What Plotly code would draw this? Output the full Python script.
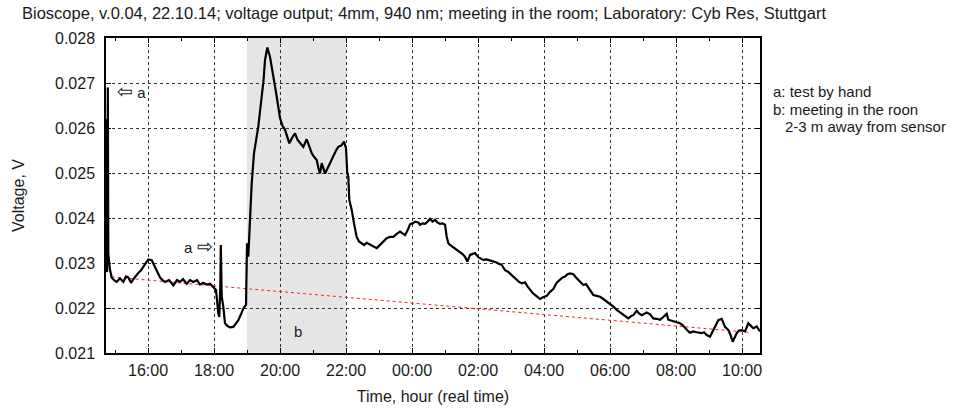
import pandas as pd
import plotly.graph_objects as go

# Recording start date; times below are hours counted from midnight of that day
BASE = pd.Timestamp("2014-10-22")

hours = [
    14.730, 14.738, 14.746, 14.760, 14.782, 14.797, 14.848, 14.900, 14.970, 15.052,
    15.152, 15.252, 15.333, 15.403, 15.485, 15.555, 15.636, 15.706, 15.788, 15.858,
    15.939, 16.009, 16.112, 16.212, 16.288, 16.364, 16.439, 16.515, 16.636, 16.767,
    16.879, 16.970, 17.061, 17.173, 17.273, 17.373, 17.485, 17.576, 17.667, 17.779,
    17.879, 17.979, 18.061, 18.130, 18.161, 18.191, 18.206, 18.233, 18.282, 18.333,
    18.409, 18.485, 18.585, 18.667, 18.736, 18.818, 18.888, 18.970, 19.000, 19.039,
    19.091, 19.142, 19.212, 19.273, 19.342, 19.445, 19.500, 19.545, 19.615, 19.697,
    19.779, 19.900, 20.000, 20.076, 20.152, 20.212, 20.282, 20.364, 20.455, 20.530,
    20.606, 20.706, 20.809, 20.879, 20.961, 21.030, 21.112, 21.167, 21.212, 21.264,
    21.318, 21.364, 21.464, 21.545, 21.615, 21.697, 21.767, 21.870, 21.939, 22.000,
    22.039, 22.070, 22.100, 22.173, 22.242, 22.324, 22.394, 22.476, 22.545, 22.627,
    22.697, 22.779, 22.848, 22.930, 23.000, 23.082, 23.152, 23.233, 23.333, 23.433,
    23.530, 23.636, 23.712, 23.788, 23.864, 23.939, 24.015, 24.091, 24.191, 24.242,
    24.318, 24.394, 24.470, 24.545, 24.621, 24.697, 24.773, 24.848, 24.924, 25.000,
    25.052, 25.100, 25.152, 25.227, 25.303, 25.379, 25.455, 25.530, 25.606, 25.676,
    25.758, 25.833, 25.909, 26.009, 26.091, 26.161, 26.258, 26.364, 26.464, 26.567,
    26.636, 26.718, 26.818, 26.918, 27.021, 27.091, 27.173, 27.242, 27.324, 27.424,
    27.500, 27.576, 27.652, 27.727, 27.803, 27.879, 27.970, 28.082, 28.182, 28.282,
    28.385, 28.485, 28.561, 28.636, 28.712, 28.788, 28.888, 28.970, 29.039, 29.121,
    29.191, 29.273, 29.343, 29.424, 29.494, 29.597, 29.697, 29.797, 29.900, 29.970,
    30.052, 30.121, 30.203, 30.303, 30.403, 30.485, 30.555, 30.636, 30.706, 30.809,
    30.879, 30.961, 31.030, 31.112, 31.212, 31.312, 31.415, 31.515, 31.615, 31.718,
    31.767, 31.848, 31.918, 32.021, 32.121, 32.197, 32.273, 32.348, 32.424, 32.524,
    32.627, 32.697, 32.779, 32.848, 32.930, 33.030, 33.130, 33.212, 33.282, 33.385,
    33.485, 33.585, 33.652, 33.718, 33.839, 33.909, 33.991, 34.091, 34.191, 34.273,
    34.343, 34.445, 34.545,
]

voltage = [
    0.02290, 0.02620, 0.02285, 0.02280, 0.02690, 0.02320, 0.02285, 0.02268, 0.02262, 0.02258,
    0.02266, 0.02258, 0.02270, 0.02268, 0.02256, 0.02264, 0.02272, 0.02278, 0.02284, 0.02292,
    0.02300, 0.02308, 0.02306, 0.02290, 0.02278, 0.02268, 0.02262, 0.02258, 0.02262, 0.02250,
    0.02262, 0.02258, 0.02264, 0.02254, 0.02262, 0.02258, 0.02262, 0.02252, 0.02256, 0.02252,
    0.02254, 0.02246, 0.02240, 0.02188, 0.02180, 0.02250, 0.02340, 0.02225, 0.02203, 0.02166,
    0.02160, 0.02157, 0.02158, 0.02166, 0.02173, 0.02186, 0.02199, 0.02207, 0.02344, 0.02314,
    0.02396, 0.02477, 0.02544, 0.02575, 0.02603, 0.02670, 0.02705, 0.02751, 0.02779, 0.02758,
    0.02725, 0.02670, 0.02622, 0.02605, 0.02596, 0.02580, 0.02566, 0.02578, 0.02588, 0.02574,
    0.02566, 0.02558, 0.02575, 0.02560, 0.02544, 0.02536, 0.02529, 0.02510, 0.02499, 0.02522,
    0.02508, 0.02499, 0.02514, 0.02528, 0.02540, 0.02550, 0.02558, 0.02562, 0.02570, 0.02555,
    0.02499, 0.02492, 0.02440, 0.02418, 0.02388, 0.02358, 0.02348, 0.02344, 0.02340, 0.02345,
    0.02342, 0.02340, 0.02336, 0.02333, 0.02338, 0.02344, 0.02350, 0.02355, 0.02358, 0.02358,
    0.02364, 0.02370, 0.02366, 0.02362, 0.02372, 0.02386, 0.02388, 0.02392, 0.02390, 0.02385,
    0.02388, 0.02387, 0.02392, 0.02398, 0.02392, 0.02396, 0.02390, 0.02387, 0.02388, 0.02385,
    0.02358, 0.02344, 0.02340, 0.02336, 0.02333, 0.02328, 0.02325, 0.02320, 0.02314, 0.02303,
    0.02318, 0.02320, 0.02322, 0.02313, 0.02310, 0.02307, 0.02308, 0.02306, 0.02304, 0.02301,
    0.02298, 0.02296, 0.02284, 0.02280, 0.02273, 0.02268, 0.02262, 0.02258, 0.02255, 0.02257,
    0.02248, 0.02240, 0.02234, 0.02229, 0.02224, 0.02220, 0.02224, 0.02227, 0.02236, 0.02242,
    0.02256, 0.02262, 0.02268, 0.02270, 0.02275, 0.02277, 0.02275, 0.02268, 0.02262, 0.02255,
    0.02251, 0.02253, 0.02245, 0.02236, 0.02229, 0.02227, 0.02225, 0.02220, 0.02214, 0.02210,
    0.02207, 0.02202, 0.02196, 0.02190, 0.02184, 0.02180, 0.02177, 0.02182, 0.02184, 0.02194,
    0.02188, 0.02184, 0.02187, 0.02190, 0.02186, 0.02177, 0.02176, 0.02174, 0.02180, 0.02187,
    0.02174, 0.02172, 0.02170, 0.02168, 0.02166, 0.02162, 0.02155, 0.02150, 0.02145, 0.02148,
    0.02146, 0.02145, 0.02144, 0.02146, 0.02140, 0.02136, 0.02151, 0.02165, 0.02173, 0.02176,
    0.02158, 0.02151, 0.02140, 0.02125, 0.02144, 0.02150, 0.02151, 0.02148, 0.02166, 0.02160,
    0.02155, 0.02159, 0.02148,
]

# Baseline drift line (start, end)
baseline_hours = [14.90, 34.20]
baseline_volts = [0.02269, 0.02146]

# Meeting period shaded as "b"
meeting_hours = [19.0, 22.0]

axis_hours = [14.727, 34.545]
y_range = [0.021, 0.028]

title_text = ("Bioscope, v.0.04, 22.10.14; voltage output; 4mm, 940 nm; "
              "meeting in the room; Laboratory: Cyb Res, Stuttgart")
notes = ["a: test by hand", "b: meeting in the roon", "2-3 m away from sensor"]


def to_time(h):
    return BASE + pd.to_timedelta(h, unit="h")


t = to_time(pd.Series(hours))
FONT = "Arial, Liberation Sans, sans-serif"
INK = "#1a1a1a"

fig = go.Figure()
fig.add_trace(go.Scatter(
    x=to_time(pd.Series(baseline_hours)), y=baseline_volts, mode="lines",
    line=dict(color="#ff2020", width=1, dash="dot"), hoverinfo="skip",
))
fig.add_trace(go.Scatter(
    x=t, y=voltage, mode="lines",
    line=dict(color="black", width=2.2),
))

fig.add_shape(
    type="rect", layer="below", xref="x", yref="paper",
    x0=to_time(meeting_hours[0]), x1=to_time(meeting_hours[1]), y0=0, y1=1,
    fillcolor="#e5e5e5", line_width=0,
)

grid = dict(showgrid=True, gridcolor="#333", griddash="dot", gridwidth=1)
fig.update_xaxes(
    type="date", range=[to_time(axis_hours[0]), to_time(axis_hours[1])],
    tick0=to_time(16), dtick=2 * 3600 * 1000, tickformat="%H:%M",
    ticks="inside", ticklen=5, tickcolor="black", mirror="ticks",
    showline=True, linecolor="black", linewidth=1.5, automargin=False,
    minor=dict(dtick=3600 * 1000, ticks="inside", ticklen=3, tickcolor="black", showgrid=False),
    tickfont=dict(size=16, color=INK, family=FONT), ticklabelstandoff=2,
    title=dict(text="Time, hour (real time)", font=dict(size=16, color=INK, family=FONT), standoff=13),
    zeroline=False, **grid,
)
fig.update_yaxes(
    range=y_range, dtick=0.001, tickformat=".3f",
    ticks="inside", ticklen=5, tickcolor="black", mirror="ticks",
    showline=True, linecolor="black", linewidth=1.5, automargin=False,
    tickfont=dict(size=16, color=INK, family=FONT), ticklabelstandoff=6,
    title=dict(text="Voltage, V", font=dict(size=16, color=INK, family=FONT), standoff=26),
    zeroline=False, **grid,
)

txt = dict(size=15, color=INK, family=FONT)
arrow_l = "<span style='font-size:19px'>⇦</span> a"
arrow_r = "a <span style='font-size:19px'>⇨</span>"
fig.add_annotation(x=to_time(15.00), y=0.02681, text=arrow_l, showarrow=False,
                   xanchor="left", yanchor="middle", font=txt)
fig.add_annotation(x=to_time(18.03), y=0.02336, text=arrow_r, showarrow=False,
                   xanchor="right", yanchor="middle", font=txt)
fig.add_annotation(x=to_time(20.545), y=0.02147, text="b", showarrow=False,
                   xanchor="center", yanchor="middle", font=txt)

for txt_line, xp, yp in zip(notes, [1.0168, 1.0168, 1.0352], [0.8286, 0.7746, 0.7206]):
    fig.add_annotation(xref="paper", yref="paper", x=xp, y=yp, text=txt_line,
                       showarrow=False, xanchor="left", yanchor="middle", font=txt)

fig.update_layout(
    width=972, height=410,
    margin=dict(l=106, r=212, t=38, b=57, autoexpand=False),
    paper_bgcolor="white", plot_bgcolor="white",
    showlegend=False,
    title=dict(text=title_text, xref="container", yref="container",
               x=22 / 972, y=1 - 13 / 410, xanchor="left", yanchor="middle",
               font=dict(size=16.5, color=INK, family=FONT)),
)

fig.write_html("out.html")
